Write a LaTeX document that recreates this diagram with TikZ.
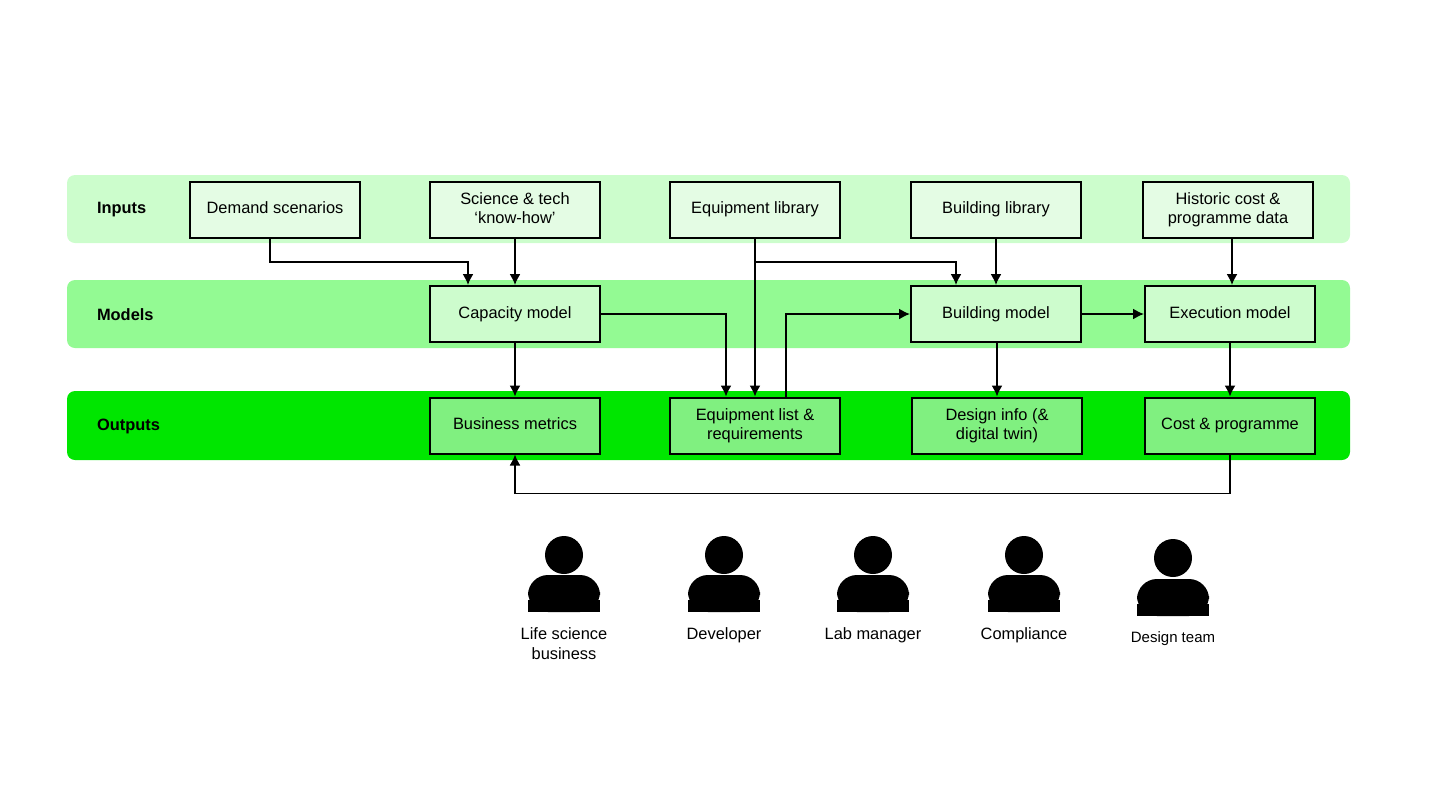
\documentclass[tikz,border=0pt]{standalone}
\usepackage{fontspec}
\setmainfont{Liberation Sans}
\usetikzlibrary{positioning, calc, arrows.meta}
\definecolor{bandIn}{HTML}{CCFDCC}
\definecolor{bandMod}{HTML}{93FA93}
\definecolor{bandOut}{HTML}{00E600}
\definecolor{boxIn}{HTML}{E4FCE4}
\definecolor{boxMod}{HTML}{CDFCCD}
\definecolor{boxOut}{HTML}{80F080}
\tikzset{
  Box/.style = {draw=black, line width=1pt, minimum width=85pt, minimum height=28pt,
    align=center, inner sep=1pt, text depth=1.5pt, font=\fontsize{8.2}{9.6}\selectfont},
  Band/.style = {rounded corners=4pt, draw=none},
  Label/.style = {font=\bfseries\fontsize{8.2}{10}\selectfont, anchor=west},
  Arrow/.style = {line width=0.8pt, -{Latex[length=5.5pt,width=5.5pt]}},
  Person/.style = {font=\fontsize{8.2}{10}\selectfont, align=center, anchor=north}
}
\begin{document}
\begin{tikzpicture}[x=0.5pt, y=-0.5pt]
    \useasboundingbox (0,0) rectangle (1440,800);
    % bands
    \fill[Band, bandIn] (67,175) rectangle (1350,243);
    \fill[Band, bandMod] (67,280) rectangle (1350,348);
    \fill[Band, bandOut] (67,391) rectangle (1350,460);
    \node[Label] (lin) at (90,210) {Inputs};
    \node[Label] (lmod) at (90,315) {Models};
    \node[Label] (lout) at (90,426) {Outputs};
    % inputs
    \node[Box, fill=boxIn] (demand) at (275,209.5) {Demand scenarios};
    \node[Box, fill=boxIn] (know) at (515,209.5) {Science \& tech\\‘know-how’};
    \node[Box, fill=boxIn] (eqlib) at (755,209.5) {Equipment library};
    \node[Box, fill=boxIn] (bldlib) at (996,209.5) {Building library};
    \node[Box, fill=boxIn] (hist) at (1228,209.5) {Historic cost \&\\programme data};
    % models
    \node[Box, fill=boxMod] (cap) at (515,314) {Capacity model};
    \node[Box, fill=boxMod] (bld) at (996,314) {Building model};
    \node[Box, fill=boxMod] (exe) at (1230,314) {Execution model};
    % outputs
    \node[Box, fill=boxOut] (biz) at (515,425.5) {Business metrics};
    \node[Box, fill=boxOut] (eqlist) at (755,425.5) {Equipment list \&\\requirements};
    \node[Box, fill=boxOut] (design) at (997,425.5) {Design info (\&\\digital twin)};
    \node[Box, fill=boxOut] (cost) at (1230,425.5) {Cost \& programme};
    \coordinate (split) at (755,262);
    % connectors
    \draw[Arrow] ([xshift=-2.5pt]demand.south) |- (468,262) -- (468,262 |- cap.north);
    \draw[Arrow] (know) -- (cap);
    \draw[Arrow] (eqlib) -- (eqlist);
    \draw[Arrow] (split) -| ([xshift=-20pt]bld.north);
    \draw[Arrow] (bldlib) -- (bld);
    \draw[Arrow] ([xshift=2pt]hist.south) -- ([xshift=1pt]exe.north);
    \draw[Arrow] (cap.east) -| ([xshift=-14.5pt]eqlist.north);
    \draw[Arrow] ([xshift=15.5pt]eqlist.north) |- (bld.west);
    \draw[Arrow] (bld) -- (exe);
    \draw[Arrow] (cap) -- (biz);
    \draw[Arrow] (bld.south -| design.north) -- (design);
    \draw[Arrow] (exe) -- (cost);
    \draw[Arrow] (cost.south) -- ++(0,39) -| (biz.south);
    % people
    \foreach \px/\txt/\nm in {564/{Life science\\business}/p1, 724/Developer/p2,
        873/Lab manager/p3, 1024/Compliance/p4} {
      \fill (\px,555) circle (9.5pt);
      \fill[rounded corners=10pt] (\px-36,612) -- (\px-36,575) -- (\px+36,575) -- (\px+36,612) -- cycle;
      \fill (\px-36,600) rectangle (\px+36,612);
      \node[Person] (\nm) at (\px,621) {\txt};
    }
    \fill (1173,558) circle (9.5pt);
    \fill[rounded corners=10pt] (1137,616) -- (1137,579) -- (1209,579) -- (1209,616) -- cycle;
    \fill (1137,604) rectangle (1209,616);
    \node[Person, font=\fontsize{7.5}{9}\selectfont] (p5) at (1173,625) {Design team};
\end{tikzpicture}
\end{document}
